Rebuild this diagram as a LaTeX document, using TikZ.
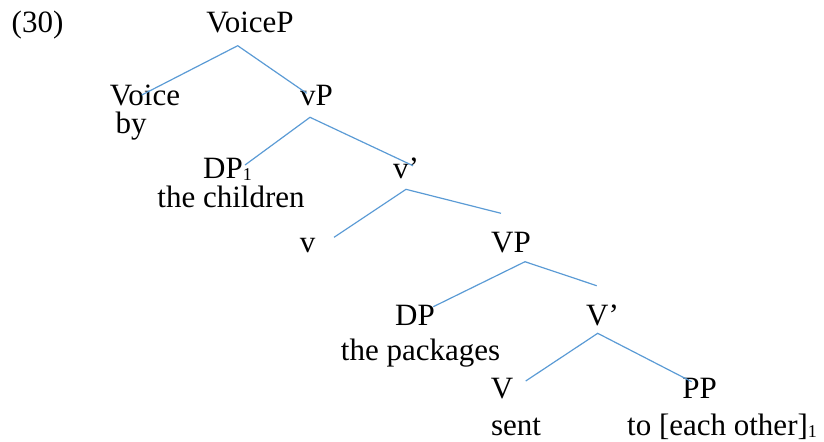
\documentclass[tikz,border=0pt]{standalone}
\usepackage{fontspec}
\setmainfont{Liberation Serif}
\usepackage{xcolor}
\usepackage{tikz}
\definecolor{branchblue}{RGB}{91,155,213}
\newcommand{\idx}[1]{\raisebox{-1.2pt}{\fontsize{9}{9}\selectfont #1}}

\begin{document}
\begin{tikzpicture}[x=0.5pt, y=-0.5pt,
	lbl/.style={anchor=base, inner sep=0pt, font=\fontsize{15.5}{18}\selectfont},
	branch/.style={color=branchblue, line width=0.6pt}]
	\useasboundingbox (0,0) rectangle (824,441);
	% labels
	\node[lbl] (ex) at (37.5,32) {(30)};
	\node[lbl] (voicep) at (250,32) {VoiceP};
	\node[lbl] (voice) at (145,105) {Voice};
	\node[lbl] (by) at (131,133) {by};
	\node[lbl] (vp) at (316.5,105) {vP};
	\node[lbl] (dp1) at (227.5,178) {DP\idx{1}};
	\node[lbl] (children) at (231,207) {the children};
	\node[lbl] (vbar) at (406,178) {v’};
	\node[lbl] (v) at (307.5,252) {v};
	\node[lbl] (bigvp) at (511,252) {VP};
	\node[lbl] (dp) at (415,325) {DP};
	\node[lbl] (packages) at (420.5,360) {the packages};
	\node[lbl] (bigvbar) at (602.5,325) {V’};
	\node[lbl] (bigv) at (502,398) {V};
	\node[lbl] (pp) at (699.5,398) {PP};
	\node[lbl] (sent) at (516,435) {sent};
	\node[lbl] (each) at (722,435) {to [each other]\idx{1}};
	% branch points and ends
	\coordinate (voicep-b) at (237.7,45.7);
	\coordinate (voice-t) at (141.7,95);
	\coordinate (vp-t) at (306.7,93.3);
	\coordinate (vp-b) at (310,117.3);
	\coordinate (dp1-t) at (245,165);
	\coordinate (vbar-t) at (413,165.7);
	\coordinate (vbar-b) at (406,189.3);
	\coordinate (v-t) at (334,237.3);
	\coordinate (bigvp-t) at (501,213.3);
	\coordinate (bigvp-b) at (525,261.7);
	\coordinate (dp-t) at (433.3,306.7);
	\coordinate (bigvbar-t) at (596.7,285.7);
	\coordinate (bigvbar-b) at (597.7,333.3);
	\coordinate (bigv-t) at (525.7,381);
	\coordinate (pp-t) at (691.7,381.7);
	% branches
	\draw[branch] (voice-t) -- (voicep-b) -- (vp-t);
	\draw[branch] (dp1-t) -- (vp-b) -- (vbar-t);
	\draw[branch] (v-t) -- (vbar-b) -- (bigvp-t);
	\draw[branch] (dp-t) -- (bigvp-b) -- (bigvbar-t);
	\draw[branch] (bigv-t) -- (bigvbar-b) -- (pp-t);
\end{tikzpicture}
\end{document}
